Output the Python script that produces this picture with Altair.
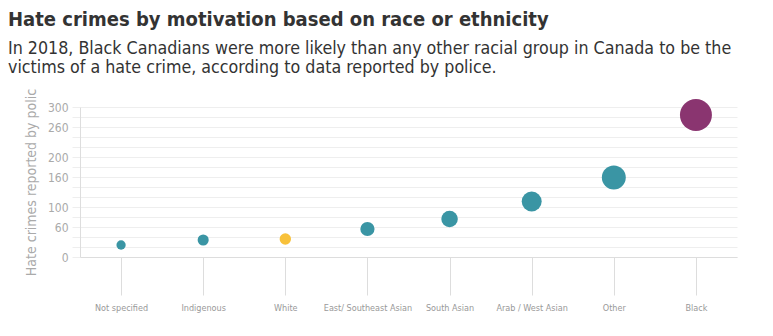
import altair as alt
import pandas as pd

categories = ["Not specified", "Indigenous", "White", "East/ Southeast Asian",
              "South Asian", "Arab / West Asian", "Other", "Black"]
values = [24, 34, 36, 56, 76, 111, 159, 284]
groups = ["other", "other", "white", "other", "other", "other", "other", "black"]

group_domain = ["other", "white", "black"]
group_colors = ["#3a95a4", "#f8c13a", "#8a3570"]

y_grid_values = list(range(0, 301, 20))
y_label_values = [0, 60, 100, 160, 200, 260, 300]

df = pd.DataFrame({"category": categories, "value": values, "group": groups})

FONT = "Liberation Sans Narrow, DejaVu Sans Condensed, Roboto"

label_expr = "indexof(" + str(y_label_values) + ", datum.value) >= 0 ? datum.label : ''"

chart = alt.Chart(df).mark_circle(opacity=1).encode(
    x=alt.X("category:N", sort=categories, title=None,
            axis=alt.Axis(labelAngle=0, labelFontSize=9, labelColor="#999999",
                          labelFont=FONT, tickSize=38, tickColor="#dddddd",
                          domainColor="#dddddd", labelPadding=8, grid=False)),
    y=alt.Y("value:Q", scale=alt.Scale(domain=[0, 300], nice=False),
            title="Hate crimes reported by polic",
            axis=alt.Axis(values=y_grid_values, labelExpr=label_expr,
                          labelOverlap=False, labelFontSize=12,
                          labelColor="#aaaaaa", labelFont=FONT,
                          tickSize=8, tickColor="#eeeeee", gridColor="#eeeeee",
                          domainColor="#dddddd", labelPadding=4,
                          titleFont=FONT, titleFontSize=14,
                          titleFontWeight="normal", titleColor="#aaaaaa",
                          titlePadding=9)),
    size=alt.Size("value:Q", scale=alt.Scale(domain=[0, 300], range=[0, 1080]),
                  legend=None),
    color=alt.Color("group:N", scale=alt.Scale(domain=group_domain, range=group_colors),
                    legend=None),
).properties(
    width=657,
    height=150,
    autosize=alt.AutoSizeParams(type="none"),
    padding={"left": 80, "top": 107, "right": 36, "bottom": 79},
    title=alt.TitleParams(
        text="Hate crimes by motivation based on race or ethnicity",
        subtitle=["In 2018, Black Canadians were more likely than any other racial group in Canada to be the",
                  "victims of a hate crime, according to data reported by police."],
        anchor="start", frame="group", dx=-72, font=FONT, fontSize=20,
        fontWeight="bold", color="#333333", subtitleFont=FONT,
        subtitleFontSize=17.7, subtitleColor="#333333", subtitleLineHeight=19,
        subtitlePadding=10, offset=12,
    ),
).configure_view(stroke=None)

chart.save("out.html", embed_options={"renderer": "svg", "actions": False})
